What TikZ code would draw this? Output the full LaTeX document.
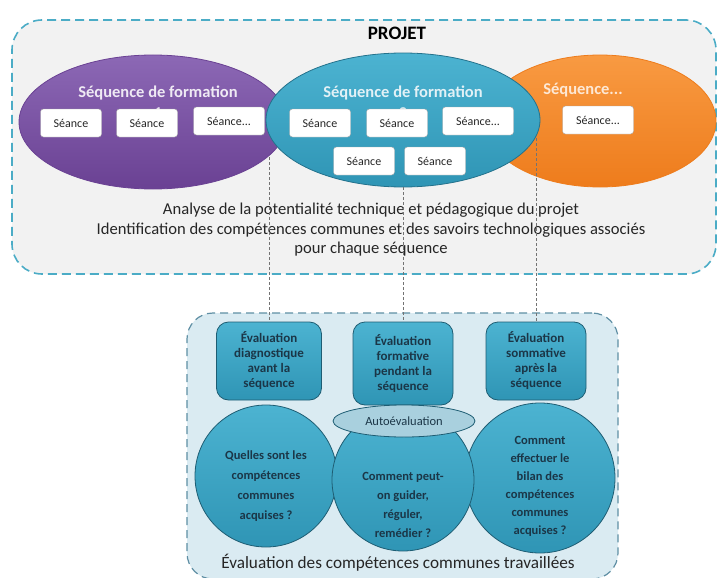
\documentclass[tikz,border=0pt]{standalone}
\usepackage{fontspec}
\setmainfont{Carlito}
\usetikzlibrary{shapes.geometric}
\definecolor{teal1}{HTML}{4BACC6}
\definecolor{graybg}{HTML}{F2F2F2}
\definecolor{purp}{HTML}{7A52A3}
\definecolor{purpL}{HTML}{8C68B5}
\definecolor{purpD}{HTML}{6A4193}
\definecolor{blu}{HTML}{3BA5C5}
\definecolor{bluL}{HTML}{4CB3D1}
\definecolor{bluD}{HTML}{2F95B5}
\definecolor{bluB}{HTML}{24728C}
\definecolor{orng}{HTML}{F68B2C}
\definecolor{orngL}{HTML}{F89A42}
\definecolor{orngD}{HTML}{EE7C1C}
\definecolor{evalF}{HTML}{3AA0C0}
\definecolor{evalB}{HTML}{1E5D73}
\definecolor{botbg}{HTML}{DAEBF2}
\definecolor{botB}{HTML}{5F8FA4}
\definecolor{autoF}{HTML}{A9D0DE}
\definecolor{txtD}{HTML}{1B3647}
\begin{document}
\begin{tikzpicture}[x=1pt,y=-1pt,
  frame/.style={draw=teal1, line width=1.6pt, dash pattern=on 9pt off 5pt, fill=graybg, rounded corners=30pt, inner sep=0pt},
  botframe/.style={draw=botB, line width=1.2pt, dash pattern=on 8pt off 5pt, fill=botbg, rounded corners=26pt, inner sep=0pt},
  seqell/.style={ellipse, inner sep=0pt, line width=0.8pt},
  seqtitle/.style={font=\bfseries\fontsize{16.5}{21}\selectfont, align=center},
  seance/.style={draw=black!35, fill=white, rounded corners=3pt, minimum width=61pt, minimum height=28pt, inner sep=0pt, font=\fontsize{12}{14}\selectfont, text=black!85},
  seancew/.style={seance, minimum width=71pt},
  conn/.style={draw=black!55, line width=0.6pt, dash pattern=on 3pt off 2pt},
  evalbox/.style={draw=evalB, line width=0.8pt, top color=bluL, bottom color=bluD, rounded corners=12pt, inner sep=0pt, align=center, text=txtD, font=\bfseries\fontsize{13}{15}\selectfont},
  evalcirc/.style={circle, draw=evalB, line width=0.8pt, top color=bluL, bottom color=bluD, inner sep=0pt},
  circtext/.style={align=center, text=txtD, font=\bfseries\fontsize{12.5}{20}\selectfont}
]
\useasboundingbox (0,0) rectangle (720,578);
\fill[white] (0,0) rectangle (720,578);

% top frame
\node[frame, minimum width=704pt, minimum height=254pt] (projet) at (364,147) {};
\node[font=\bfseries\fontsize{19}{21}\selectfont] (projtitle) at (397,33) {PROJET};

% ellipses
\node[seqell, draw=orngD, top color=orngL, bottom color=orngD, minimum width=232pt, minimum height=132pt] (seq3) at (600,121) {};
\node[seqell, draw=purpD, top color=purpL, bottom color=purpD, minimum width=268pt, minimum height=134pt] (seq1) at (153,122) {};
\node[seqell, draw=bluB, top color=bluL, bottom color=bluD, minimum width=274pt, minimum height=134pt] (seq2) at (403,120) {};

\node[seqtitle, text=white!88!purp, anchor=north] (t1) at (158,82) {Séquence de formation\\1};
\node[seqtitle, text=white!85!blu, anchor=north] (t2) at (403,82) {Séquence de formation\\2};
\node[seqtitle, text=white!80!orng] (t3) at (583,90) {Séquence...};

% seances
\node[seance] (s11) at (71,123) {Séance};
\node[seance] (s12) at (147,123) {Séance};
\node[seancew] (s13) at (229,121) {Séance...};
\node[seance] (s21) at (320,123) {Séance};
\node[seance] (s22) at (397,123) {Séance};
\node[seancew] (s23) at (478,121) {Séance...};
\node[seance] (s24) at (364,161) {Séance};
\node[seance] (s25) at (435,161) {Séance};
\node[seancew] (s31) at (598,120) {Séance...};

% texts
\node[align=center, font=\fontsize{16.6}{19.5}\selectfont, text=black!85] (analyse) at (371,230) {Analyse de la potentialité technique et pédagogique du projet\\Identification des compétences communes et des savoirs technologiques associés\\pour chaque séquence};

% bottom frame
\node[botframe, minimum width=431pt, minimum height=266pt] (evalframe) at (402.5,446) {};

% circles
\node[evalcirc, minimum size=142pt] (c1) at (266,476) {};
\node[evalcirc, minimum size=150pt] (c3) at (540,478) {};
\node[evalcirc, minimum size=142pt] (c2) at (403,480) {};

% eval boxes
\node[evalbox, minimum width=105pt, minimum height=78pt] (e1) at (269,361) {Évaluation\\diagnostique\\avant la\\séquence};
\node[evalbox, minimum width=100pt, minimum height=83pt] (e2) at (403,363.5) {Évaluation\\formative\\pendant la\\séquence};
\node[evalbox, minimum width=100pt, minimum height=78pt] (e3) at (536,361) {Évaluation\\sommative\\après la\\séquence};

\node[ellipse, draw=evalB, line width=0.8pt, fill=autoF, minimum width=142pt, minimum height=32pt, inner sep=0pt, text=txtD, font=\fontsize{12.5}{14}\selectfont] (auto) at (404,421) {Autoévaluation};

\node[circtext] (q1) at (266,486) {Quelles sont les\\compétences\\communes\\acquises ?};
\node[circtext, font=\bfseries\fontsize{12.5}{19}\selectfont] (q2) at (403,505) {Comment peut-\\on guider,\\réguler,\\remédier ?};
\node[circtext, font=\bfseries\fontsize{12.5}{18}\selectfont] (q3) at (540,486) {Comment\\effectuer le\\bilan des\\compétences\\communes\\acquises ?};

\node[font=\fontsize{17.2}{19}\selectfont, text=black!85] (bottitle) at (398,563) {Évaluation des compétences communes travaillées};

% connectors
\coordinate (a1) at (269,157);
\coordinate (a2) at (403,187);
\coordinate (a3) at (536,138);
\draw[conn] (a1) -- (e1.north);
\draw[conn] (a2) -- (e2.north);
\draw[conn] (a3) -- (e3.north);
\end{tikzpicture}
\end{document}
